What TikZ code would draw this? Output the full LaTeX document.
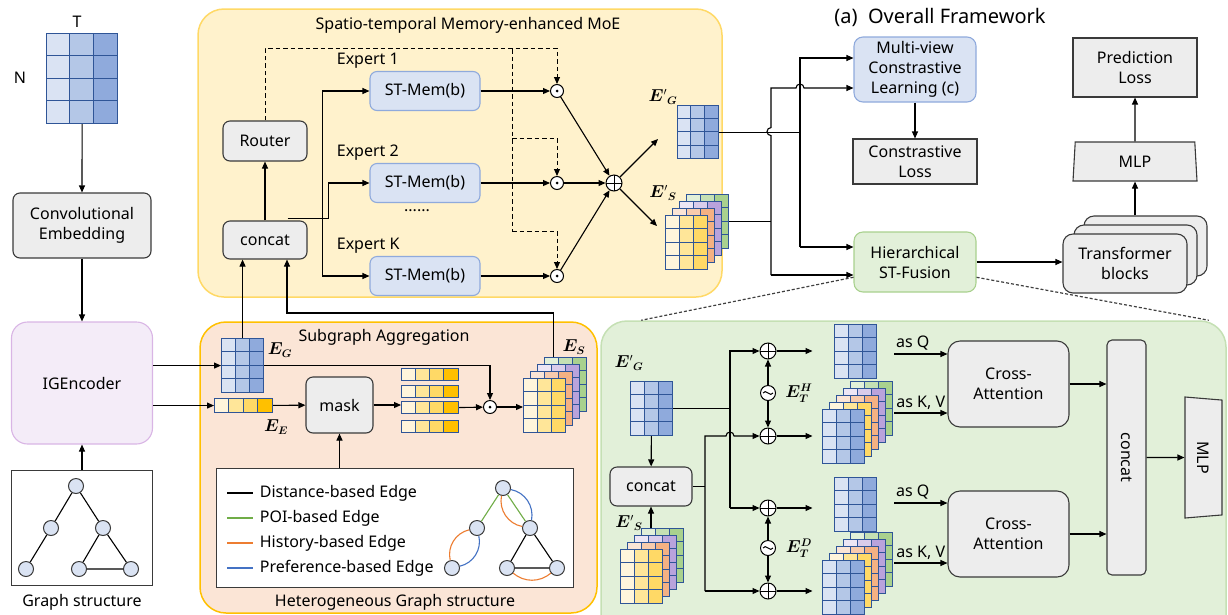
\documentclass[tikz,border=0pt]{standalone}
\usepackage{amsmath}
\usepackage{fontspec}
\setmainfont{Noto Sans}
\usepackage{bm}
\usetikzlibrary{arrows.meta,shapes.geometric,calc}
\definecolor{bl1}{HTML}{DAE3F3}\definecolor{bl2}{HTML}{B4C7E7}\definecolor{bl3}{HTML}{8FAADC}
\definecolor{ye1}{HTML}{FFF5DC}\definecolor{ye2}{HTML}{FFE699}\definecolor{ye3}{HTML}{FFD966}\definecolor{ye4}{HTML}{FFC000}
\definecolor{or1}{HTML}{FBE5D6}\definecolor{or2}{HTML}{F8CBAD}\definecolor{or3}{HTML}{F4B183}
\definecolor{pu1}{HTML}{EDE6F5}\definecolor{pu2}{HTML}{D9CCEB}\definecolor{pu3}{HTML}{B9A3DC}
\definecolor{gr1}{HTML}{E2F0D9}\definecolor{gr2}{HTML}{C5E0B4}\definecolor{gr3}{HTML}{A9D18E}
\definecolor{cellc}{HTML}{2F5597}
\definecolor{boxfill}{HTML}{EDEDED}\definecolor{boxline}{HTML}{3A3A3A}
\definecolor{moefill}{HTML}{FFF2CC}\definecolor{moeline}{HTML}{FFD966}
\definecolor{sgfill}{HTML}{FBE5D6}\definecolor{sgline}{HTML}{FFC000}
\definecolor{gpfill}{HTML}{E2F0D9}\definecolor{gpline}{HTML}{C5E0B4}
\definecolor{hsfline}{HTML}{A9D18E}
\definecolor{stfill}{HTML}{DAE3F3}\definecolor{stline}{HTML}{8FAADC}
\definecolor{igfill}{HTML}{F4ECF8}\definecolor{igline}{HTML}{D9B5E5}
\definecolor{egreen}{HTML}{70AD47}\definecolor{eorange}{HTML}{ED7D31}\definecolor{eblue}{HTML}{4472C4}
\definecolor{gnodec}{HTML}{DAE3F3}
\tikzset{
  arr/.style={-{Triangle[length=7pt,width=6pt]}},
  panel/.style={rounded corners=26pt,line width=1.5pt,inner sep=0pt},
  graybox/.style={draw=boxline,fill=boxfill,rounded corners=7pt,align=center,inner sep=2pt},
  sqbox/.style={draw=boxline,fill=boxfill,align=center,inner sep=2pt},
  stbox/.style={draw=stline,fill=stfill,rounded corners=7pt,minimum width=110pt,minimum height=39pt},
  mvbox/.style={draw=stline,fill=stfill,rounded corners=9pt,align=center,inner sep=2pt},
  hsfbox/.style={draw=hsfline,fill=gpfill,rounded corners=9pt,align=center,inner sep=2pt},
  igbox/.style={draw=igline,fill=igfill,rounded corners=16pt},
  trap/.style={trapezium,trapezium stretches body,draw=boxline,fill=boxfill,inner sep=0pt},
  cell/.style={draw=cellc,line width=0.8pt},
  gnode/.style={circle,draw=boxline,fill=gnodec,minimum size=15pt,inner sep=0pt,line width=1pt},
  odot/.style={circle,draw,fill=white,minimum size=13pt,inner sep=0pt,line width=1pt,
    path picture={\fill[black] (path picture bounding box.center) circle[radius=1.5pt];}},
  oplus/.style={circle,draw,fill=white,minimum size=16pt,inner sep=0pt,line width=1pt,
    path picture={\draw (path picture bounding box.north)--(path picture bounding box.south)
      (path picture bounding box.west)--(path picture bounding box.east);}},
  wavec/.style={circle,draw,fill=white,minimum size=15pt,inner sep=0pt,line width=1pt,
    path picture={\draw ([xshift=-5pt]path picture bounding box.center) .. controls +(2.5pt,5pt) and +(-2.5pt,-5pt) .. ([xshift=5pt]path picture bounding box.center);}},
  dashl/.style={dash pattern=on 4.5pt off 3pt,line width=1pt},
  zoomd/.style={dash pattern=on 3pt off 2pt,line width=1.2pt,draw=black!75}
}
\newcommand\cellmat[8]{%
  \node[inner sep=0pt,minimum width={#4*#6},minimum height={#5*#7},anchor=north west] (#1) at ({#2},{#3}) {};
  \foreach \cc in {1,...,#4}{\foreach \rr in {1,...,#5}{%
    \draw[cell,fill=#8\cc] ({#2+(\cc-1)*#6},{#3+(\rr-1)*#7}) rectangle ++(#6,#7);}}}
\newcommand\stackmat[5]{%
  \foreach \pp [count=\ii] in {#5}{%
    \pgfmathsetmacro\off{(#4-\ii)*7}%
    \cellmat{#1-\ii}{#2+\off}{#3-\off}{3}{4}{14}{13.5}{\pp}}}
\begin{document}
\begin{tikzpicture}[x=1pt,y=-1pt,line width=1.1pt,font=\fontsize{16}{20}\selectfont]
\useasboundingbox (0,0) rectangle (1228,614);
\node[panel,fill=moefill,draw=moeline,minimum width=524pt,minimum height=288pt] (moe) at (460,153) {};
\node[panel,fill=sgfill,draw=sgline,minimum width=397pt,minimum height=291pt] (sg) at (398.5,467.5) {};
\node[panel,fill=gpfill,draw=gpline,minimum width=625pt,minimum height=320pt] (gp) at (913.5,481) {};

\node (tlab) at (77,22) {T};
\node (nlab) at (20,78) {N};
\cellmat{X}{46}{33}{3}{4}{23.7}{22.5}{bl}
\node[graybox,minimum width=138pt,minimum height=65pt] (conv) at (82,225.5) {Convolutional\\Embedding};
\node[igbox,minimum width=141pt,minimum height=122pt] (ige) at (82,383) {IGEncoder};
\node[draw=boxline,fill=white,minimum width=141pt,minimum height=115pt] (gbox) at (82,528) {};
\node (glab) at (82,602) {Graph structure};
\foreach \n/\xx/\yy in {g1/76/486,g2/51/528,g3/103/528,g4/26/569,g5/79/569,g6/131/569}{
  \node[gnode] (\n) at (\xx,\yy) {};}
\draw (g1)--(g2) (g1)--(g3) (g2)--(g4) (g3)--(g5) (g3)--(g6) (g5)--(g6);
\draw[arr] (X.south) -- (conv.north);
\draw[arr] (conv) -- (ige);
\draw[arr] (gbox) -- (ige);

\node (moetitle) at (468,25) {Spatio-temporal Memory-enhanced MoE};
\node[graybox,minimum width=84pt,minimum height=40pt] (router) at (265,141) {Router};
\node[graybox,minimum width=84pt,minimum height=38pt] (concat) at (265,240) {concat};
\foreach \i/\yy/\lab in {1/91/1,2/183/2,3/276/K}{
  \node[stbox] (st\i) at (425,\yy) {ST-Mem(b)};
  \node[anchor=west] (ex\i) at (333,{\yy-30}) {Expert \lab};
  \node[odot] (od\i) at (557,\yy) {};
  \draw[arr] (st\i) -- (od\i);}
\node (dots) at (417,211) {......};
\node[oplus] (sum) at (614,183) {};
\foreach \i in {1,2,3}{\draw[arr] (od\i) -- (sum);}
\draw[arr] (concat) -- (router);
\draw[arr] ([xshift=-20pt,yshift=2pt]concat.north east) -- ++(41,0) |- (st2.west);
\draw[arr] ([xshift=-47pt]st1.west) -- (st1.west);
\draw[arr] ([xshift=-47pt]st1.west) -- ([xshift=-47pt]st3.west) -- (st3.west);
\coordinate (dtop) at (512,49); \coordinate (dmid) at (512,138); \coordinate (dbot) at (512,231);
\draw[dashl,arr] (router.north) -- ++(0,-72) -| (od1.north);
\draw[dashl] (dtop) -- (dbot);
\draw[dashl,arr] (dmid) -| (od2.north);
\draw[dashl,arr] (dbot) -| (od3.north);
\cellmat{EGm}{677}{105}{3}{4}{13.7}{13.3}{bl}
\node (egl) at (663,97) {$\bm{E}'{}_{\bm{G}}$};
\stackmat{ESm}{665}{215}{4}{gr,pu,or,ye}
\node (esl) at (663,193) {$\bm{E}'{}_{\bm{S}}$};
\coordinate (egin) at (658,139); \coordinate (esin) at (657,226);
\draw[arr] (sum) -- (egin);
\draw[arr] (sum) -- (esin);

\node (ttl) at (940,17) {\fontsize{20}{24}\selectfont(a)\ \ Overall Framework};
\node[mvbox,minimum width=122pt,minimum height=65pt] (mv) at (915,69.5) {Multi-view\\Constrastive\\Learning (c)};
\node[sqbox,minimum width=124pt,minimum height=45pt] (closs) at (915,161.5) {Constrastive\\Loss};
\node[hsfbox,minimum width=122pt,minimum height=60pt] (hsf) at (915,262) {Hierarchical\\ST-Fusion};
\draw[arr] (mv) -- (closs);
\coordinate (gTop) at (800,58); \coordinate (gBot) at (800,247);
\coordinate (sTop) at (771,88); \coordinate (sBot) at (771,275);
\draw (EGm.east) -- (EGm.east -| gTop);
\draw[arr] (gBot) -- (gTop) -- (gTop -| mv.west);
\draw[arr] (gBot) -- (gBot -| hsf.west);
\draw (ESm-1.east) -- (ESm-1.east -| sTop);
\draw[arr] (sBot) -- (771,135.6) arc[start angle=270,end angle=90,radius=4pt] -- (sTop) -- (796,88)
  arc[start angle=180,end angle=0,radius=4pt] -- (sTop -| mv.west);
\draw[arr] (sBot) -- (sBot -| hsf.west);
\node[graybox,rounded corners=10pt,minimum width=123pt,minimum height=60pt] (tb3) at (1145.5,246) {};
\node[graybox,rounded corners=10pt,minimum width=123pt,minimum height=60pt] (tb2) at (1135.5,255) {};
\node[graybox,rounded corners=10pt,minimum width=124pt,minimum height=59pt] (tb1) at (1125,263.5) {Transformer\\blocks};
\draw[arr] (hsf.east) -- (hsf.east -| tb1.west);
\node[trap,trapezium angle=79,minimum width=124pt,minimum height=39pt] (mlp) at (1135,161.5) {MLP};
\node[sqbox,minimum width=124pt,minimum height=59pt] (pl) at (1135,67.5) {Prediction\\Loss};
\draw[arr] (mlp.south |- tb3.north) -- (mlp.south);
\draw[arr] (mlp) -- (pl);
\draw[zoomd] ($(hsf.south west)!0.25!(hsf.north west)$) -- ([xshift=41pt]gp.north west);
\draw[zoomd] ($(hsf.south east)!0.25!(hsf.north east)$) -- ([xshift=-18pt]gp.north east);

\node (sgtitle) at (384,337) {Subgraph Aggregation};
\node (hgtitle) at (395,602) {Heterogeneous Graph structure};
\cellmat{EG}{221}{338}{3}{4}{14}{13.5}{bl}
\node (egsl) at (280,350) {$\bm{E}_{\bm{G}}$};
\cellmat{EE}{214}{398}{4}{1}{14.5}{14}{ye}
\node (eesl) at (276,427) {$\bm{E}_{\bm{E}}$};
\draw[arr] (ige.east |- EG.west) -- (EG.west);
\draw[arr] (ige.east |- EE.west) -- (EE.west);
\node[graybox,minimum width=67pt,minimum height=56pt] (mask) at (339.5,405) {mask};
\draw[arr] (EE) -- (mask);
\foreach \i/\yy in {1/368,2/385,3/401,4/420}{\cellmat{R\i}{401}{\yy}{4}{1}{14.25}{12}{ye}}
\draw[arr] (mask.east) -- (mask.east -| R3.west);
\node[odot] (sgod) at (490,407) {};
\draw[arr] (R3.east) -- (sgod);
\draw[arr] (EG.east) -| (sgod.north);
\stackmat{ESs}{523}{378}{4}{gr,pu,or,ye}
\node (essl) at (574,347) {$\bm{E}_{\bm{S}}$};
\draw[arr] (sgod) -- (sgod -| ESs-4.west);
\draw[arr] ([xshift=-12pt]ESs-1.north) -- ++(0,-44) -| ([xshift=22pt]concat.south);
\draw[arr] (EG.north) -- (EG.north |- concat.south);
\node[draw=boxline,fill=white,anchor=north west,minimum width=357pt,minimum height=119pt] (leg) at (216,468) {};
\draw[arr] (leg.north -| mask) -- (mask.south);
\foreach \c/\t [count=\i] in {black/Distance-based Edge,egreen/POI-based Edge,eorange/History-based Edge,eblue/Preference-based Edge}{
  \draw[\c,line width=1.4pt] (227,{468+25*\i}) -- ++(26,0);
  \node[anchor=west] (lg\i) at (256,{468+25*\i}) {\t};}
\foreach \n/\xx/\yy in {h1/503/488,h2/477/528,h3/530/528,h4/452/568,h5/507/568,h6/557/568}{
  \node[gnode] (\n) at (\xx,\yy) {};}
\draw[egreen] (h1) -- (h2) (h1) -- (h3);
\draw[eorange] (h1) to[bend right=45] (h3) (h2) to[bend right=45] (h4) (h5) to[bend right=40] (h6);
\draw[eblue] (h1) to[bend left=45] (h3) (h2) to[bend left=45] (h4);
\draw (h3) -- (h5) (h3) -- (h6) (h5) -- (h6);

\node (gegl) at (629,363) {$\bm{E}'{}_{\bm{G}}$};
\cellmat{gEG}{630}{381}{3}{4}{14}{13.5}{bl}
\node[graybox,minimum width=82pt,minimum height=39pt] (gcat) at (651,486.5) {concat};
\draw[arr] (gEG) -- (gcat);
\node (gesl) at (629,523) {$\bm{E}'{}_{\bm{S}}$};
\stackmat{gES}{620}{549}{4}{gr,pu,or,ye}
\draw[arr] (gcat.south |- gES-1.north) -- (gcat.south);
\foreach \i/\yy in {1/351,2/436,3/508,4/591}{
  \node[oplus] (p\i) at (768,\yy) {};
  \draw[arr] (p\i.east) -- ++(36,0);}
\node[wavec] (w1) at (768,393) {};
\node[wavec] (w2) at (768,548) {};
\draw[arr] (w1) -- (p1); \draw[arr] (w1) -- (p2);
\draw[arr] (w2) -- (p3); \draw[arr] (w2) -- (p4);
\node (eth) at (799,393) {$\bm{E}_{\bm{T}}^{\bm{H}}$};
\node (etd) at (799,548) {$\bm{E}_{\bm{T}}^{\bm{D}}$};
\coordinate (aTop) at (730,351); \coordinate (aBot) at (730,508);
\coordinate (bTop) at (705,436); \coordinate (bBot) at (705,591);
\draw (gEG.east) -- (gEG.east -| aTop);
\draw[arr] (aBot) -- (aTop) -- (p1.west);
\draw[arr] (aBot) -- (p3.west);
\draw (gcat.east) -- (gcat.east -| bTop);
\draw[arr] (bBot) -- (bTop) -- (726,436) arc[start angle=180,end angle=0,radius=4pt] -- (p2.west);
\draw[arr] (bBot) -- (p4.west);
\cellmat{Q1}{834}{324}{3}{4}{14}{13.5}{bl}
\cellmat{Q2}{834}{477}{3}{4}{14}{13.5}{bl}
\stackmat{KV1}{822}{409}{5}{gr,pu,or,ye,bl}
\stackmat{KV2}{822}{560}{5}{gr,pu,or,ye,bl}
\node[graybox,rounded corners=12pt,minimum width=121pt,minimum height=86pt] (ca1) at (1008.5,384) {Cross-\\Attention};
\node[graybox,rounded corners=12pt,minimum width=121pt,minimum height=86pt] (ca2) at (1008.5,534) {Cross-\\Attention};
\coordinate (q1s) at (894,354); \coordinate (k1s) at (894,413);
\coordinate (q2s) at (894,503); \coordinate (k2s) at (894,563);
\draw[arr] (q1s) -- node[above,pos=0.35] (lq1) {as Q} (q1s -| ca1.west);
\draw[arr] (k1s) -- node[above] (lk1) {as K, V} (k1s -| ca1.west);
\draw[arr] (q2s) -- node[above,pos=0.35] (lq2) {as Q} (q2s -| ca2.west);
\draw[arr] (k2s) -- node[above] (lk2) {as K, V} (k2s -| ca2.west);
\node[graybox,rotate=-90,rounded corners=5pt,minimum width=235pt,minimum height=39pt] (tcat) at (1126.5,457.5) {concat};
\draw[arr] (ca1.east) -- (ca1.east -| tcat.south);
\draw[arr] (ca2.east) -- (ca2.east -| tcat.south);
\node[trap,rotate=-90,trapezium angle=75,minimum width=121pt,minimum height=37pt] (mlp2) at (1203.5,457.5) {MLP};
\draw[arr] (tcat.north) -- (mlp2.south);
\end{tikzpicture}
\end{document}
